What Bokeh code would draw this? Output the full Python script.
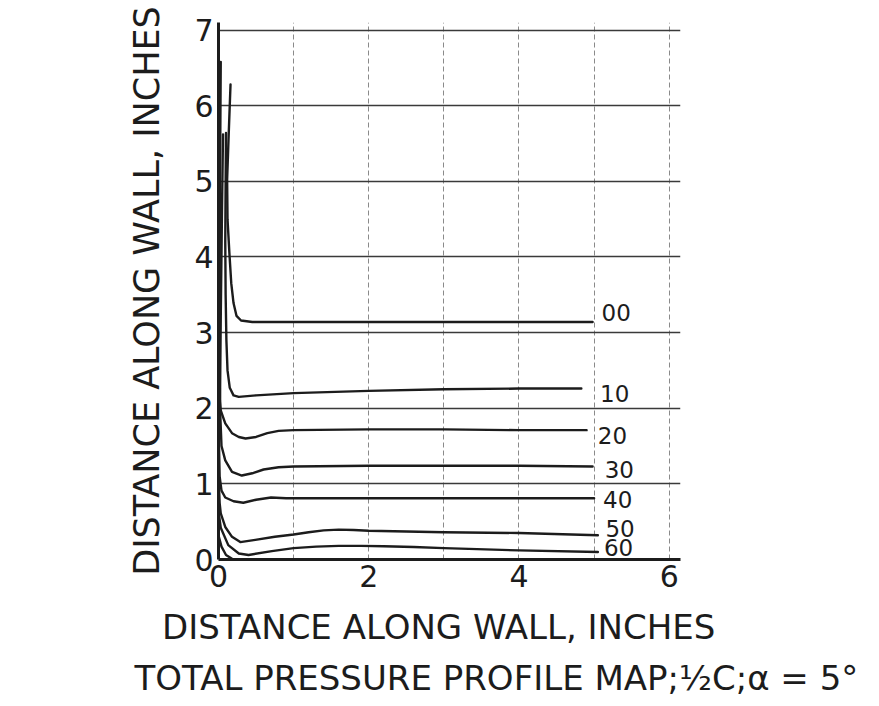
from bokeh.plotting import figure
from bokeh.models import FixedTicker, ColumnDataSource, Title
from bokeh.embed import file_html
from bokeh.resources import INLINE
from bokeh.core.properties import value

# ---- data ----
x00 = [0.16, 0.135, 0.115, 0.12, 0.145, 0.17, 0.2, 0.24, 0.3, 0.45, 1.0, 2.0, 3.0, 4.0, 4.98]
y00 = [6.28, 5.6, 5.02, 4.5, 4.05, 3.65, 3.39, 3.22, 3.16, 3.14, 3.14, 3.14, 3.14, 3.14, 3.14]

x10 = [0.10, 0.095, 0.09, 0.095, 0.105, 0.12, 0.15, 0.2, 0.27, 0.5, 1.0, 2.0, 3.0, 4.0, 4.83]
y10 = [5.64, 5.0, 4.2, 3.5, 2.9, 2.5, 2.27, 2.17, 2.15, 2.17, 2.2, 2.23, 2.25, 2.26, 2.26]

x20 = [0.06, 0.045, 0.03, 0.02, 0.03, 0.09, 0.18, 0.27, 0.36, 0.5, 0.65, 0.8, 1.0, 2.0, 3.0, 4.0, 4.9]
y20 = [5.62, 4.5, 3.2, 2.1, 1.97, 1.80, 1.67, 1.62, 1.60, 1.62, 1.67, 1.70, 1.71, 1.72, 1.72, 1.71, 1.71]

x30 = [0.03, 0.02, 0.012, 0.02, 0.04, 0.09, 0.18, 0.31, 0.45, 0.6, 0.8, 1.0, 2.0, 3.0, 4.0, 4.98]
y30 = [6.58, 5.0, 3.0, 2.0, 1.5, 1.31, 1.16, 1.11, 1.14, 1.19, 1.22, 1.23, 1.24, 1.24, 1.24, 1.23]

x40 = [0.005, 0.015, 0.04, 0.09, 0.2, 0.33, 0.5, 0.7, 0.9, 1.0, 2.0, 3.0, 4.0, 5.0]
y40 = [1.6, 1.1, 0.91, 0.82, 0.77, 0.75, 0.79, 0.82, 0.81, 0.81, 0.81, 0.81, 0.81, 0.81]

x50 = [0.005, 0.015, 0.03, 0.09, 0.18, 0.29, 0.49, 0.75, 1.0, 1.2, 1.4, 1.6, 1.8, 2.0, 2.5, 3.0, 4.0, 5.05]
y50 = [1.0, 0.75, 0.61, 0.43, 0.30, 0.23, 0.26, 0.30, 0.33, 0.36, 0.385, 0.395, 0.39, 0.38, 0.37, 0.36, 0.35, 0.32]

x60 = [0.005, 0.03, 0.13, 0.27, 0.4, 0.71, 1.0, 1.3, 1.6, 1.9, 2.2, 2.6, 3.0, 4.0, 5.05]
y60 = [0.6, 0.42, 0.19, 0.08, 0.06, 0.11, 0.15, 0.17, 0.18, 0.18, 0.175, 0.165, 0.15, 0.12, 0.10]

x70 = [0.005, 0.04, 0.1, 0.18]
y70 = [0.3, 0.17, 0.06, 0.01]

curve_labels = ["00", "10", "20", "30", "40", "50", "60"]
label_x = [5.1, 5.08, 5.05, 5.14, 5.12, 5.15, 5.13]
label_y = [3.26, 2.2, 1.64, 1.19, 0.79, 0.41, 0.16]

x_ticks = [0, 2, 4, 6]
y_ticks = [0, 1, 2, 3, 4, 5, 6, 7]

title_text = "TOTAL PRESSURE PROFILE MAP;½C;α = 5°"
x_label = "DISTANCE  ALONG  WALL, INCHES"
y_label = "DISTANCE ALONG WALL, INCHES"

# ---- figure ----
FONT = "DejaVu Sans"
INK = "#1c1c1c"

p = figure(width=879, height=706, x_range=(0, 6.15), y_range=(0, 7.1),
           output_backend="svg", toolbar_location=None,
           min_border_left=218, min_border_right=199,
           min_border_top=22, min_border_bottom=147)
p.outline_line_color = None
p.background_fill_color = "white"
p.border_fill_color = "white"

# grids
p.xgrid.ticker = FixedTicker(ticks=[1, 2, 3, 4, 5, 6])
p.ygrid.ticker = FixedTicker(ticks=[1, 2, 3, 4, 5, 6, 7])
p.xgrid.grid_line_color = "#8a8a8a"
p.xgrid.grid_line_dash = "5 3"
p.xgrid.grid_line_width = 1
p.ygrid.grid_line_color = "#3a3a3a"
p.ygrid.grid_line_width = 1.3

# axes
for ax in (p.xaxis[0], p.yaxis[0]):
    ax.axis_line_color = INK
    ax.axis_line_width = 3
    ax.major_tick_line_color = None
    ax.minor_tick_line_color = None
    ax.major_tick_out = 0
    ax.major_tick_in = 0
    ax.major_label_text_font = FONT
    ax.major_label_text_font_size = "30px"
    ax.major_label_text_color = INK
    ax.axis_label_text_font = FONT
    ax.axis_label_text_font_style = "normal"
    ax.axis_label_text_color = INK

p.xaxis.ticker = FixedTicker(ticks=x_ticks)
p.yaxis.ticker = FixedTicker(ticks=y_ticks)
p.xaxis.axis_label = x_label
p.yaxis.axis_label = y_label
p.xaxis.axis_label_text_font_size = "34px"
p.yaxis.axis_label_text_font_size = "35px"
p.xaxis.major_label_standoff = 5
p.yaxis.major_label_standoff = 5
p.xaxis.axis_label_standoff = 17
p.yaxis.axis_label_standoff = 24

# curves
for xs, ys in [(x00, y00), (x10, y10), (x20, y20), (x30, y30),
               (x40, y40), (x50, y50), (x60, y60), (x70, y70)]:
    p.line(xs, ys, line_color=INK, line_width=2.4, line_join="round", line_cap="round")

src = ColumnDataSource(dict(x=label_x, y=label_y, t=curve_labels))
p.text(x="x", y="y", text="t", source=src, text_font=value(FONT),
       text_font_size="23px", text_color=INK, text_baseline="middle", text_align="left")

# title below the axis label
t = Title(text=title_text, align="left", offset=-84, standoff=12,
          text_font=FONT, text_font_size="34px", text_font_style="normal",
          text_color=INK)
p.add_layout(t, "below")

open("out.html", "w").write(file_html(p, INLINE))
